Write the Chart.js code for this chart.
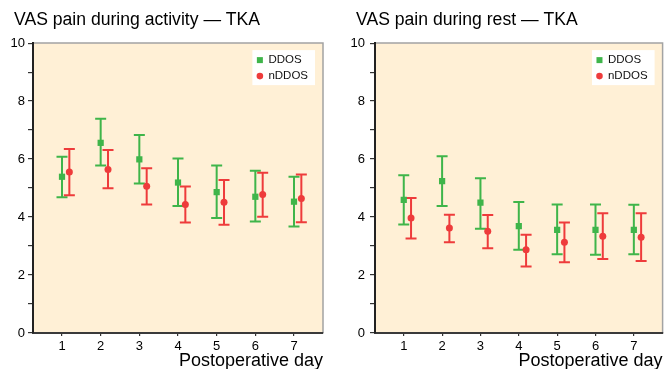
<!DOCTYPE html>
<html>
<head>
<meta charset="utf-8">
<script src="https://cdn.jsdelivr.net/npm/chart.js@4.4.0/dist/chart.umd.min.js"></script>
<style>
  html, body { margin: 0; padding: 0; background: #fff; }
  .wrap { display: flex; width: 667px; height: 369px; }
</style>
</head>
<body>
<div class="wrap">
  <canvas id="chartActivity" width="340" height="369"></canvas>
  <canvas id="chartRest" width="327" height="369"></canvas>
</div>
<script>
const days = [1, 2, 3, 4, 5, 6, 7];
const yTicks = [0, 2, 4, 6, 8, 10];

// VAS during activity
const actDdosMean  = [5.39, 6.56, 5.99, 5.19, 4.86, 4.70, 4.53];
const actDdosLow   = [4.68, 5.78, 5.16, 4.38, 3.97, 3.85, 3.67];
const actDdosHigh  = [6.08, 7.39, 6.83, 6.02, 5.78, 5.60, 5.39];
const actNddosMean = [5.55, 5.64, 5.06, 4.43, 4.51, 4.78, 4.64];
const actNddosLow  = [4.75, 4.99, 4.43, 3.81, 3.73, 4.01, 3.82];
const actNddosHigh = [6.35, 6.31, 5.68, 5.05, 5.28, 5.53, 5.47];

// VAS during rest
const restDdosMean  = [4.59, 5.24, 4.50, 3.69, 3.56, 3.56, 3.56];
const restDdosLow   = [3.74, 4.38, 3.60, 2.87, 2.72, 2.70, 2.72];
const restDdosHigh  = [5.44, 6.10, 5.34, 4.52, 4.43, 4.43, 4.42];
const restNddosMean = [3.97, 3.62, 3.51, 2.87, 3.13, 3.34, 3.30];
const restNddosLow  = [3.26, 3.13, 2.92, 2.29, 2.44, 2.55, 2.48];
const restNddosHigh = [4.66, 4.08, 4.07, 3.39, 3.81, 4.13, 4.13];

const GREEN = '#3fb54a';
const RED = '#ee3b3b';
const DODGE = 0.19; // nDDOS sits a little right of the day

Chart.defaults.font.family = "'Liberation Sans', Arial, Helvetica, sans-serif";
Chart.defaults.color = '#111';

// plot background + grey top/right frame, and shift the title right
const frameBg = {
     id: 'frameBg',
     afterLayout(chart, args, opts) {
          chart.titleBlock.left = opts.titleLeft;
     },
     beforeDraw(chart) {
          const { ctx, chartArea: a } = chart;
          ctx.save();
          ctx.fillStyle = '#fff0d6';
          ctx.fillRect(a.left, a.top, a.right - a.left, a.bottom - a.top);
          ctx.strokeStyle = '#a3a3a3';
          ctx.lineWidth = 1.5;
          ctx.beginPath();
          ctx.moveTo(a.left, a.top);
          ctx.lineTo(a.right, a.top);
          ctx.lineTo(a.right, a.bottom);
          ctx.stroke();
          ctx.restore();
     }
};

// vertical error bars with caps
const errorBars = {
     id: 'errorBars',
     beforeDatasetsDraw(chart) {
          const { ctx, scales: { x, y } } = chart;
          ctx.save();
          chart.data.datasets.forEach(ds => {
               ctx.strokeStyle = ds.backgroundColor;
               ctx.lineWidth = 2;
               ds.data.forEach((p, i) => {
                    const px = x.getPixelForValue(p.x);
                    const lo = y.getPixelForValue(ds.errLow[i]);
                    const hi = y.getPixelForValue(ds.errHigh[i]);
                    ctx.beginPath();
                    ctx.moveTo(px, lo);
                    ctx.lineTo(px, hi);
                    ctx.moveTo(px - 5.5, lo);
                    ctx.lineTo(px + 5.5, lo);
                    ctx.moveTo(px - 5.5, hi);
                    ctx.lineTo(px + 5.5, hi);
                    ctx.stroke();
               });
          });
          ctx.restore();
     }
};

// white legend box in the top right corner of the plot
const legendBox = {
     id: 'legendBox',
     afterDatasetsDraw(chart) {
          const { ctx, chartArea: a } = chart;
          const sets = chart.data.datasets;
          ctx.save();
          ctx.font = "11.5px 'Liberation Sans', Arial, sans-serif";
          const textW = Math.max(...sets.map(ds => ctx.measureText(ds.label).width));
          const w = 4 + 7 + 5 + textW + 7;
          const h = 35;
          const left = a.right - 8 - w;
          const top = a.top + 7;
          ctx.fillStyle = '#fff';
          ctx.fillRect(left, top, w, h);
          sets.forEach((ds, i) => {
               const cy = top + 10 + i * 16;
               const cx = left + 7.5;
               ctx.fillStyle = ds.backgroundColor;
               if (ds.pointStyle === 'rect') {
                    ctx.fillRect(cx - 3, cy - 3, 6, 6);
               } else {
                    ctx.beginPath();
                    ctx.arc(cx, cy, 3.3, 0, Math.PI * 2);
                    ctx.fill();
               }
               ctx.fillStyle = '#111';
               ctx.textBaseline = 'middle';
               ctx.textAlign = 'left';
               ctx.fillText(ds.label, left + 16, cy);
          });
          ctx.restore();
     }
};

function makeChart(canvasId, titleText, ddos, nddos, pad) {
     const ctx = document.getElementById(canvasId).getContext('2d');
     return new Chart(ctx, {
          type: 'scatter',
          data: {
               datasets: [{
                    label: 'DDOS',
                    data: days.map((d, i) => ({ x: d, y: ddos.mean[i] })),
                    errLow: ddos.low,
                    errHigh: ddos.high,
                    pointStyle: 'rect',
                    pointRadius: 4.4,
                    borderWidth: 0,
                    backgroundColor: GREEN
               }, {
                    label: 'nDDOS',
                    data: days.map((d, i) => ({ x: d + DODGE, y: nddos.mean[i] })),
                    errLow: nddos.low,
                    errHigh: nddos.high,
                    pointStyle: 'circle',
                    pointRadius: 3.5,
                    borderWidth: 0,
                    backgroundColor: RED
               }]
          },
          options: {
               responsive: false,
               animation: false,
               events: [],
               layout: { padding: { left: 0, right: pad.right, top: 0, bottom: 0 } },
               plugins: {
                    legend: { display: false },
                    tooltip: { enabled: false },
                    frameBg: { titleLeft: pad.title },
                    title: {
                         display: true,
                         text: titleText,
                         align: 'start',
                         color: '#000',
                         font: { size: 17.6, weight: 'normal', lineHeight: 1.2 },
                         padding: { top: 10, bottom: 12 }
                    }
               },
               scales: {
                    x: {
                         type: 'linear',
                         min: 0.25,
                         max: 7.75,
                         afterBuildTicks: s => { s.ticks = days.map(v => ({ value: v })); },
                         afterFit: s => { s.height = 36; },
                         ticks: { font: { size: 13 }, padding: 3, color: '#000' },
                         grid: { drawOnChartArea: false, drawTicks: true, tickLength: 3, color: '#333', lineWidth: 1.2 },
                         border: { color: '#3a3a3a', width: 2 },
                         title: {
                              display: true,
                              text: 'Postoperative day',
                              align: 'end',
                              color: '#000',
                              font: { size: 18, lineHeight: 1 },
                              padding: { top: 0, bottom: -1 }
                         }
                    },
                    y: {
                         min: 0,
                         max: 10,
                         afterFit: s => { s.width = pad.axis; },
                         ticks: {
                              stepSize: 1,
                              autoSkip: false,
                              font: { size: 13 },
                              padding: pad.tick,
                              color: '#000',
                              callback: v => yTicks.includes(v) ? v : ''
                         },
                         grid: { drawOnChartArea: false, drawTicks: true, tickLength: 5, color: '#333', lineWidth: 1.2 },
                         border: { color: '#222', width: 2 }
                    }
               }
          },
          plugins: [frameBg, errorBars, legendBox]
     });
}

makeChart('chartActivity', 'VAS pain during activity \u2014 TKA',
     { mean: actDdosMean, low: actDdosLow, high: actDdosHigh },
     { mean: actNddosMean, low: actNddosLow, high: actNddosHigh },
     { title: 14, right: 17, axis: 33, tick: 3 });

makeChart('chartRest', 'VAS pain during rest \u2014 TKA',
     { mean: restDdosMean, low: restDdosLow, high: restDdosHigh },
     { mean: restNddosMean, low: restNddosLow, high: restNddosHigh },
     { title: 16, right: 1, axis: 35, tick: 5 });
</script>
</body>
</html>
